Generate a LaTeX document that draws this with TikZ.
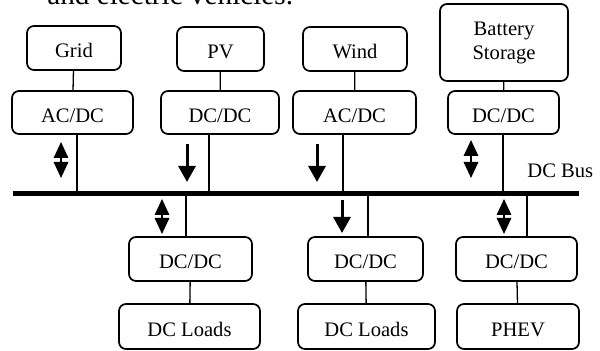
\documentclass[tikz,border=0pt]{standalone}
\usepackage{fontspec}
\setmainfont{Liberation Serif}
\usetikzlibrary{arrows.meta,positioning}
\tikzset{bx/.style={draw, rounded corners=3.5pt, line width=0.85pt, inner sep=0, align=center, font=\fontsize{10.3}{12}\selectfont, text height=9.8pt, text depth=0pt}}
\tikzset{wire/.style={line width=0.65pt}}
\tikzset{dn/.style={line width=1.5pt, -{Triangle[length=8pt,width=8.5pt]}}}
\tikzset{ud/.style={line width=1pt, {Triangle[length=8pt,width=7.2pt]}-{Triangle[length=8pt,width=7.2pt]}}}

\begin{document}
\begin{tikzpicture}[x=0.5pt,y=-0.5pt]
    \useasboundingbox (0,0) rectangle (600,351);
    \node[anchor=base west, inner sep=0, font=\fontsize{14.6}{16}\selectfont] (cap) at (47,4.5) {and electric vehicles.};

    % sources
    \node[bx, minimum width=47pt, minimum height=22pt] (grid) at (74,48) {Grid};
    \node[bx, minimum width=43.5pt, minimum height=22pt] (pv) at (220.5,49) {PV};
    \node[bx, minimum width=52pt, minimum height=22pt] (wind) at (355,49) {Wind};
    \node[bx, minimum width=64pt, minimum height=38.5pt, text height=, text depth=] (bat) at (504,42.5) {Battery\\Storage};

    % converters above the bus
    \node[bx, minimum width=60.5pt, minimum height=21.5pt] (cv1) at (72.5,112.5) {AC/DC};
    \node[bx, minimum width=59pt, minimum height=21.5pt] (cv2) at (220,112.5) {DC/DC};
    \node[bx, minimum width=61.5pt, minimum height=21.5pt] (cv3) at (354.5,112.5) {AC/DC};
    \node[bx, minimum width=55.5pt, minimum height=21.5pt] (cv4) at (503.5,112.5) {DC/DC};

    % converters below the bus
    \node[bx, minimum width=61.5pt, minimum height=22pt] (cl1) at (190.5,259) {DC/DC};
    \node[bx, minimum width=57.5pt, minimum height=22pt] (cl2) at (365.5,259) {DC/DC};
    \node[bx, minimum width=60.5pt, minimum height=22pt] (cl3) at (516.5,259) {DC/DC};

    % loads
    \node[bx, minimum width=70.5pt, minimum height=22.5pt] (ld1) at (189.5,326.5) {DC Loads};
    \node[bx, minimum width=68.5pt, minimum height=22.5pt] (ld2) at (366.5,326.5) {DC Loads};
    \node[bx, minimum width=61pt, minimum height=22.5pt] (phev) at (518,326.5) {PHEV};

    \foreach \a/\b in {grid/cv1,pv/cv2,wind/cv3,bat/cv4,cl1/ld1,cl2/ld2,cl3/phev}
      \draw[wire] (\a) -- (\b);

    % bus
    \coordinate (busL) at (13,193.5);
    \coordinate (busR) at (579,193.5);
    \foreach \c/\x in {cv1/77,cv2/209,cv3/343,cv4/503}{
      \coordinate (b\c) at (\x,193.5);
      \draw[wire] (\c.south -| b\c) -- (b\c);
    }
    \foreach \c/\x in {cl1/186,cl2/368,cl3/527}{
      \coordinate (b\c) at (\x,193.5);
      \draw[wire] (b\c) -- (\c.north -| b\c);
    }
    \draw[line width=2.4pt] (busL) -- (busR);
    \node[anchor=base west, inner sep=0, font=\fontsize{10.3}{12}\selectfont] (buslbl) at (527,178) {DC Bus};

    % power flow arrows
    \foreach \x/\ya/\yb in {61/142/178,471/140/178,162/199/234,504/199/234}
      \draw[ud] (\x,\ya) -- (\x,\yb);
    \foreach \x/\ya/\yb in {187/144/182,317/144/182,342/200/233}
      \draw[dn] (\x,\ya) -- (\x,\yb);
\end{tikzpicture}
\end{document}
